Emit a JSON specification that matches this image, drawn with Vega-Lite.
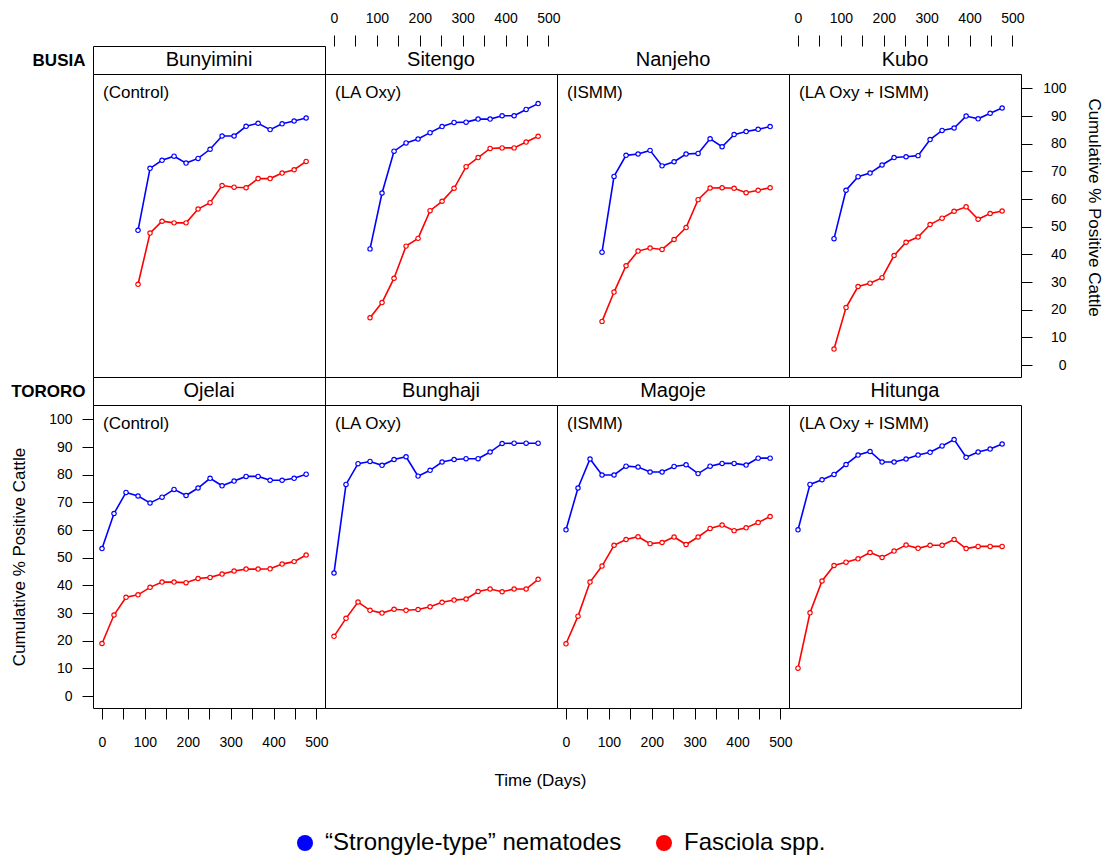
{
  "$schema": "https://vega.github.io/schema/vega-lite/v6.json",
  "padding": {"left": 10, "top": 10, "right": 5, "bottom": 0},
  "background": "white",
  "columns": 4,
  "spacing": 0,
  "align": "each",
  "bounds": "flush",
  "datasets": {
    "prevalence": [
      {"site": "Bunyimini", "day": 84, "nematodes": 48.7, "fasciola": 29.2},
      {"site": "Bunyimini", "day": 112, "nematodes": 71.1, "fasciola": 47.7},
      {"site": "Bunyimini", "day": 140, "nematodes": 74.0, "fasciola": 52.0},
      {"site": "Bunyimini", "day": 168, "nematodes": 75.5, "fasciola": 51.4},
      {"site": "Bunyimini", "day": 196, "nematodes": 73.0, "fasciola": 51.4},
      {"site": "Bunyimini", "day": 224, "nematodes": 74.7, "fasciola": 56.4},
      {"site": "Bunyimini", "day": 252, "nematodes": 78.0, "fasciola": 58.7},
      {"site": "Bunyimini", "day": 280, "nematodes": 82.8, "fasciola": 64.9},
      {"site": "Bunyimini", "day": 308, "nematodes": 82.8, "fasciola": 64.3},
      {"site": "Bunyimini", "day": 336, "nematodes": 86.3, "fasciola": 64.1},
      {"site": "Bunyimini", "day": 364, "nematodes": 87.4, "fasciola": 67.4},
      {"site": "Bunyimini", "day": 392, "nematodes": 85.1, "fasciola": 67.4},
      {"site": "Bunyimini", "day": 420, "nematodes": 87.2, "fasciola": 69.4},
      {"site": "Bunyimini", "day": 448, "nematodes": 88.2, "fasciola": 70.6},
      {"site": "Bunyimini", "day": 476, "nematodes": 89.3, "fasciola": 73.6},
      {"site": "Sitengo", "day": 84, "nematodes": 42.0, "fasciola": 17.1},
      {"site": "Sitengo", "day": 112, "nematodes": 62.2, "fasciola": 22.6},
      {"site": "Sitengo", "day": 140, "nematodes": 77.3, "fasciola": 31.4},
      {"site": "Sitengo", "day": 168, "nematodes": 80.3, "fasciola": 43.0},
      {"site": "Sitengo", "day": 196, "nematodes": 81.7, "fasciola": 45.8},
      {"site": "Sitengo", "day": 224, "nematodes": 84.0, "fasciola": 55.8},
      {"site": "Sitengo", "day": 252, "nematodes": 86.2, "fasciola": 59.2},
      {"site": "Sitengo", "day": 280, "nematodes": 87.7, "fasciola": 63.9},
      {"site": "Sitengo", "day": 308, "nematodes": 87.8, "fasciola": 71.7},
      {"site": "Sitengo", "day": 336, "nematodes": 88.9, "fasciola": 75.0},
      {"site": "Sitengo", "day": 364, "nematodes": 88.9, "fasciola": 78.3},
      {"site": "Sitengo", "day": 392, "nematodes": 90.1, "fasciola": 78.5},
      {"site": "Sitengo", "day": 420, "nematodes": 90.1, "fasciola": 78.5},
      {"site": "Sitengo", "day": 448, "nematodes": 92.4, "fasciola": 80.6},
      {"site": "Sitengo", "day": 476, "nematodes": 94.5, "fasciola": 82.7},
      {"site": "Nanjeho", "day": 84, "nematodes": 40.8, "fasciola": 15.8},
      {"site": "Nanjeho", "day": 112, "nematodes": 68.2, "fasciola": 26.4},
      {"site": "Nanjeho", "day": 140, "nematodes": 75.8, "fasciola": 35.9},
      {"site": "Nanjeho", "day": 168, "nematodes": 76.3, "fasciola": 41.2},
      {"site": "Nanjeho", "day": 196, "nematodes": 77.6, "fasciola": 42.3},
      {"site": "Nanjeho", "day": 224, "nematodes": 72.0, "fasciola": 41.8},
      {"site": "Nanjeho", "day": 252, "nematodes": 73.5, "fasciola": 45.4},
      {"site": "Nanjeho", "day": 280, "nematodes": 76.3, "fasciola": 49.7},
      {"site": "Nanjeho", "day": 308, "nematodes": 76.5, "fasciola": 59.8},
      {"site": "Nanjeho", "day": 336, "nematodes": 81.8, "fasciola": 64.0},
      {"site": "Nanjeho", "day": 364, "nematodes": 78.9, "fasciola": 64.1},
      {"site": "Nanjeho", "day": 392, "nematodes": 83.3, "fasciola": 63.9},
      {"site": "Nanjeho", "day": 420, "nematodes": 84.4, "fasciola": 62.3},
      {"site": "Nanjeho", "day": 448, "nematodes": 85.2, "fasciola": 63.2},
      {"site": "Nanjeho", "day": 476, "nematodes": 86.2, "fasciola": 64.1},
      {"site": "Kubo", "day": 84, "nematodes": 45.7, "fasciola": 5.8},
      {"site": "Kubo", "day": 112, "nematodes": 63.2, "fasciola": 20.8},
      {"site": "Kubo", "day": 140, "nematodes": 68.1, "fasciola": 28.4},
      {"site": "Kubo", "day": 168, "nematodes": 69.4, "fasciola": 29.6},
      {"site": "Kubo", "day": 196, "nematodes": 72.3, "fasciola": 31.6},
      {"site": "Kubo", "day": 224, "nematodes": 75.0, "fasciola": 39.6},
      {"site": "Kubo", "day": 252, "nematodes": 75.3, "fasciola": 44.4},
      {"site": "Kubo", "day": 280, "nematodes": 75.7, "fasciola": 46.3},
      {"site": "Kubo", "day": 308, "nematodes": 81.5, "fasciola": 50.8},
      {"site": "Kubo", "day": 336, "nematodes": 84.8, "fasciola": 53.1},
      {"site": "Kubo", "day": 364, "nematodes": 85.7, "fasciola": 55.6},
      {"site": "Kubo", "day": 392, "nematodes": 90.0, "fasciola": 57.2},
      {"site": "Kubo", "day": 420, "nematodes": 89.0, "fasciola": 52.7},
      {"site": "Kubo", "day": 448, "nematodes": 91.0, "fasciola": 54.8},
      {"site": "Kubo", "day": 476, "nematodes": 92.9, "fasciola": 55.7},
      {"site": "Ojelai", "day": 0, "nematodes": 53.3, "fasciola": 19.0},
      {"site": "Ojelai", "day": 28, "nematodes": 66.0, "fasciola": 29.3},
      {"site": "Ojelai", "day": 56, "nematodes": 73.6, "fasciola": 35.7},
      {"site": "Ojelai", "day": 84, "nematodes": 72.3, "fasciola": 36.6},
      {"site": "Ojelai", "day": 112, "nematodes": 69.8, "fasciola": 39.3},
      {"site": "Ojelai", "day": 140, "nematodes": 71.9, "fasciola": 41.2},
      {"site": "Ojelai", "day": 168, "nematodes": 74.7, "fasciola": 41.2},
      {"site": "Ojelai", "day": 196, "nematodes": 72.5, "fasciola": 41.0},
      {"site": "Ojelai", "day": 224, "nematodes": 75.2, "fasciola": 42.5},
      {"site": "Ojelai", "day": 252, "nematodes": 78.7, "fasciola": 42.9},
      {"site": "Ojelai", "day": 280, "nematodes": 76.0, "fasciola": 44.1},
      {"site": "Ojelai", "day": 308, "nematodes": 77.7, "fasciola": 45.2},
      {"site": "Ojelai", "day": 336, "nematodes": 79.4, "fasciola": 45.9},
      {"site": "Ojelai", "day": 364, "nematodes": 79.4, "fasciola": 45.9},
      {"site": "Ojelai", "day": 392, "nematodes": 78.0, "fasciola": 46.0},
      {"site": "Ojelai", "day": 420, "nematodes": 78.0, "fasciola": 47.7},
      {"site": "Ojelai", "day": 448, "nematodes": 78.7, "fasciola": 48.6},
      {"site": "Ojelai", "day": 476, "nematodes": 80.2, "fasciola": 51.0},
      {"site": "Bunghaji", "day": 0, "nematodes": 44.5, "fasciola": 21.6},
      {"site": "Bunghaji", "day": 28, "nematodes": 76.5, "fasciola": 28.1},
      {"site": "Bunghaji", "day": 56, "nematodes": 84.0, "fasciola": 34.0},
      {"site": "Bunghaji", "day": 84, "nematodes": 84.8, "fasciola": 31.0},
      {"site": "Bunghaji", "day": 112, "nematodes": 83.4, "fasciola": 30.0},
      {"site": "Bunghaji", "day": 140, "nematodes": 85.5, "fasciola": 31.4},
      {"site": "Bunghaji", "day": 168, "nematodes": 86.5, "fasciola": 31.0},
      {"site": "Bunghaji", "day": 196, "nematodes": 79.5, "fasciola": 31.3},
      {"site": "Bunghaji", "day": 224, "nematodes": 81.6, "fasciola": 32.3},
      {"site": "Bunghaji", "day": 252, "nematodes": 84.6, "fasciola": 33.9},
      {"site": "Bunghaji", "day": 280, "nematodes": 85.5, "fasciola": 34.7},
      {"site": "Bunghaji", "day": 308, "nematodes": 85.8, "fasciola": 35.1},
      {"site": "Bunghaji", "day": 336, "nematodes": 85.8, "fasciola": 37.8},
      {"site": "Bunghaji", "day": 364, "nematodes": 88.2, "fasciola": 38.7},
      {"site": "Bunghaji", "day": 392, "nematodes": 91.3, "fasciola": 37.7},
      {"site": "Bunghaji", "day": 420, "nematodes": 91.4, "fasciola": 38.7},
      {"site": "Bunghaji", "day": 448, "nematodes": 91.4, "fasciola": 38.7},
      {"site": "Bunghaji", "day": 476, "nematodes": 91.4, "fasciola": 42.2},
      {"site": "Magoje", "day": 0, "nematodes": 60.1, "fasciola": 18.9},
      {"site": "Magoje", "day": 28, "nematodes": 75.2, "fasciola": 28.9},
      {"site": "Magoje", "day": 56, "nematodes": 85.7, "fasciola": 41.2},
      {"site": "Magoje", "day": 84, "nematodes": 79.9, "fasciola": 47.0},
      {"site": "Magoje", "day": 112, "nematodes": 79.9, "fasciola": 54.5},
      {"site": "Magoje", "day": 140, "nematodes": 83.1, "fasciola": 56.6},
      {"site": "Magoje", "day": 168, "nematodes": 82.8, "fasciola": 57.6},
      {"site": "Magoje", "day": 196, "nematodes": 81.0, "fasciola": 55.1},
      {"site": "Magoje", "day": 224, "nematodes": 81.0, "fasciola": 55.5},
      {"site": "Magoje", "day": 252, "nematodes": 83.0, "fasciola": 57.5},
      {"site": "Magoje", "day": 280, "nematodes": 83.6, "fasciola": 54.8},
      {"site": "Magoje", "day": 308, "nematodes": 80.4, "fasciola": 57.5},
      {"site": "Magoje", "day": 336, "nematodes": 83.1, "fasciola": 60.6},
      {"site": "Magoje", "day": 364, "nematodes": 84.1, "fasciola": 61.8},
      {"site": "Magoje", "day": 392, "nematodes": 84.1, "fasciola": 59.8},
      {"site": "Magoje", "day": 420, "nematodes": 83.5, "fasciola": 60.8},
      {"site": "Magoje", "day": 448, "nematodes": 86.0, "fasciola": 62.7},
      {"site": "Magoje", "day": 476, "nematodes": 86.0, "fasciola": 64.9},
      {"site": "Hitunga", "day": 0, "nematodes": 60.1, "fasciola": 10.1},
      {"site": "Hitunga", "day": 28, "nematodes": 76.5, "fasciola": 30.1},
      {"site": "Hitunga", "day": 56, "nematodes": 78.2, "fasciola": 41.6},
      {"site": "Hitunga", "day": 84, "nematodes": 80.1, "fasciola": 47.2},
      {"site": "Hitunga", "day": 112, "nematodes": 83.7, "fasciola": 48.4},
      {"site": "Hitunga", "day": 140, "nematodes": 87.1, "fasciola": 49.6},
      {"site": "Hitunga", "day": 168, "nematodes": 88.4, "fasciola": 51.9},
      {"site": "Hitunga", "day": 196, "nematodes": 84.6, "fasciola": 50.1},
      {"site": "Hitunga", "day": 224, "nematodes": 84.6, "fasciola": 52.4},
      {"site": "Hitunga", "day": 252, "nematodes": 85.7, "fasciola": 54.6},
      {"site": "Hitunga", "day": 280, "nematodes": 87.1, "fasciola": 53.4},
      {"site": "Hitunga", "day": 308, "nematodes": 88.1, "fasciola": 54.5},
      {"site": "Hitunga", "day": 336, "nematodes": 90.4, "fasciola": 54.5},
      {"site": "Hitunga", "day": 364, "nematodes": 92.7, "fasciola": 56.6},
      {"site": "Hitunga", "day": 392, "nematodes": 86.3, "fasciola": 53.3},
      {"site": "Hitunga", "day": 420, "nematodes": 88.2, "fasciola": 54.1},
      {"site": "Hitunga", "day": 448, "nematodes": 89.3, "fasciola": 54.1},
      {"site": "Hitunga", "day": 476, "nematodes": 91.1, "fasciola": 54.1}
    ]
  },
  "concat": [
    {
      "width": 232, "height": 28,
      "data": {"values": [{"site": "Bunyimini", "region": "BUSIA"}]},
      "mark": {"type": "text", "fontSize": 20, "baseline": "middle", "color": "black"},
      "encoding": {
        "text": {"field": "site"},
        "y": {"field": "region", "type": "nominal", "axis": {"orient": "left", "ticks": false, "domain": false, "title": null, "labelFontWeight": "bold", "labelFontSize": 17, "labelPadding": 8}}
      }
    },
    {
      "width": 232, "height": 28,
      "data": {"values": [{"site": "Sitengo"}]},
      "mark": {"type": "text", "fontSize": 20, "baseline": "middle", "color": "black"},
      "encoding": {"text": {"field": "site"}}
    },
    {
      "width": 232, "height": 28,
      "data": {"values": [{"site": "Nanjeho"}]},
      "mark": {"type": "text", "fontSize": 20, "baseline": "middle", "color": "black"},
      "encoding": {"text": {"field": "site"}}
    },
    {
      "width": 232, "height": 28,
      "data": {"values": [{"site": "Kubo"}]},
      "mark": {"type": "text", "fontSize": 20, "baseline": "middle", "color": "black"},
      "encoding": {"text": {"field": "site"}}
    },
    {
      "width": 232, "height": 303,
      "resolve": {"axis": {"x": "independent", "y": "independent"}},
      "layer": [
        {
          "data": {"name": "prevalence"},
          "transform": [{"filter": "datum.site === 'Bunyimini'"}, {"fold": ["nematodes", "fasciola"], "as": ["series", "pct"]}],
          "encoding": {
            "x": {"field": "day", "type": "quantitative", "scale": {"domain": [-21, 520], "nice": false, "zero": false}, "axis": null},
            "y": {"field": "pct", "type": "quantitative", "scale": {"domain": [-4.3, 105.2], "nice": false, "zero": false}, "axis": null}
          },
          "layer": [
            {"mark": {"type": "point", "filled": true, "size": 30, "opacity": 1},
             "encoding": {"color": {"field": "series", "type": "nominal", "scale": {"domain": ["nematodes", "fasciola"], "range": ["#0000FF", "#FF0000"]},
               "legend": {"title": null, "orient": "none", "legendX": 200, "legendY": 785, "direction": "horizontal",
                 "labelExpr": "datum.value === 'nematodes' ? '“Strongyle-type” nematodes' : 'Fasciola spp.'",
                 "symbolType": "circle", "symbolSize": 256, "symbolStrokeWidth": 0, "symbolOpacity": 1,
                 "labelFontSize": 24, "labelColor": "black", "labelOffset": 8, "columnPadding": 30, "labelLimit": 0}}}},
            {"mark": {"type": "line", "strokeWidth": 1.6},
             "encoding": {"color": {"field": "series", "type": "nominal", "scale": {"domain": ["nematodes", "fasciola"], "range": ["#0000FF", "#FF0000"]}, "legend": null}}},
            {"mark": {"type": "point", "filled": true, "size": 10, "color": "white", "opacity": 1}}
          ]
        },
        {
          "data": {"values": [{"treatment": "(Control)"}]},
          "mark": {"type": "text", "align": "left", "baseline": "middle", "dx": 10, "dy": 19, "fontSize": 17, "color": "black"},
          "encoding": {"text": {"field": "treatment", "type": "nominal"}, "x": {"datum": -21, "type": "quantitative", "axis": null}, "y": {"datum": 105.2, "type": "quantitative", "axis": null}}
        }
      ]
    },
    {
      "width": 232, "height": 303,
      "resolve": {"axis": {"x": "independent", "y": "independent"}},
      "layer": [
        {
          "data": {"name": "prevalence"},
          "transform": [{"filter": "datum.site === 'Sitengo'"}, {"fold": ["nematodes", "fasciola"], "as": ["series", "pct"]}],
          "encoding": {
            "x": {"field": "day", "type": "quantitative", "scale": {"domain": [-21, 520], "nice": false, "zero": false},
              "axis": {"orient": "top", "offset": 28, "values": [0, 50, 100, 150, 200, 250, 300, 350, 400, 450, 500], "labelExpr": "datum.value % 100 === 0 ? datum.label : ''", "labelPadding": 10, "title": null}},
            "y": {"field": "pct", "type": "quantitative", "scale": {"domain": [-4.3, 105.2], "nice": false, "zero": false}, "axis": null}
          },
          "layer": [
            {"mark": {"type": "point", "filled": true, "size": 30, "opacity": 1},
             "encoding": {"color": {"field": "series", "type": "nominal", "scale": {"domain": ["nematodes", "fasciola"], "range": ["#0000FF", "#FF0000"]}, "legend": null}}},
            {"mark": {"type": "line", "strokeWidth": 1.6},
             "encoding": {"color": {"field": "series", "type": "nominal", "scale": {"domain": ["nematodes", "fasciola"], "range": ["#0000FF", "#FF0000"]}, "legend": null}}},
            {"mark": {"type": "point", "filled": true, "size": 10, "color": "white", "opacity": 1}}
          ]
        },
        {
          "data": {"values": [{"treatment": "(LA Oxy)"}]},
          "mark": {"type": "text", "align": "left", "baseline": "middle", "dx": 10, "dy": 19, "fontSize": 17, "color": "black"},
          "encoding": {"text": {"field": "treatment", "type": "nominal"}, "x": {"datum": -21, "type": "quantitative", "axis": null}, "y": {"datum": 105.2, "type": "quantitative", "axis": null}}
        }
      ]
    },
    {
      "width": 232, "height": 303,
      "resolve": {"axis": {"x": "independent", "y": "independent"}},
      "layer": [
        {
          "data": {"name": "prevalence"},
          "transform": [{"filter": "datum.site === 'Nanjeho'"}, {"fold": ["nematodes", "fasciola"], "as": ["series", "pct"]}],
          "encoding": {
            "x": {"field": "day", "type": "quantitative", "scale": {"domain": [-21, 520], "nice": false, "zero": false}, "axis": null},
            "y": {"field": "pct", "type": "quantitative", "scale": {"domain": [-4.3, 105.2], "nice": false, "zero": false}, "axis": null}
          },
          "layer": [
            {"mark": {"type": "point", "filled": true, "size": 30, "opacity": 1},
             "encoding": {"color": {"field": "series", "type": "nominal", "scale": {"domain": ["nematodes", "fasciola"], "range": ["#0000FF", "#FF0000"]}, "legend": null}}},
            {"mark": {"type": "line", "strokeWidth": 1.6},
             "encoding": {"color": {"field": "series", "type": "nominal", "scale": {"domain": ["nematodes", "fasciola"], "range": ["#0000FF", "#FF0000"]}, "legend": null}}},
            {"mark": {"type": "point", "filled": true, "size": 10, "color": "white", "opacity": 1}}
          ]
        },
        {
          "data": {"values": [{"treatment": "(ISMM)"}]},
          "mark": {"type": "text", "align": "left", "baseline": "middle", "dx": 10, "dy": 19, "fontSize": 17, "color": "black"},
          "encoding": {"text": {"field": "treatment", "type": "nominal"}, "x": {"datum": -21, "type": "quantitative", "axis": null}, "y": {"datum": 105.2, "type": "quantitative", "axis": null}}
        }
      ]
    },
    {
      "width": 232, "height": 303,
      "resolve": {"axis": {"x": "independent", "y": "independent"}},
      "layer": [
        {
          "data": {"name": "prevalence"},
          "transform": [{"filter": "datum.site === 'Kubo'"}, {"fold": ["nematodes", "fasciola"], "as": ["series", "pct"]}],
          "encoding": {
            "x": {"field": "day", "type": "quantitative", "scale": {"domain": [-21, 520], "nice": false, "zero": false},
              "axis": {"orient": "top", "offset": 28, "values": [0, 50, 100, 150, 200, 250, 300, 350, 400, 450, 500], "labelExpr": "datum.value % 100 === 0 ? datum.label : ''", "labelPadding": 10, "title": null}},
            "y": {"field": "pct", "type": "quantitative", "scale": {"domain": [-4.3, 105.2], "nice": false, "zero": false},
              "axis": {"orient": "right", "values": [0, 10, 20, 30, 40, 50, 60, 70, 80, 90, 100], "labelAlign": "right", "labelPadding": 34, "title": "Cumulative % Positive Cattle", "titlePadding": 18, "titleY": 133}}
          },
          "layer": [
            {"mark": {"type": "point", "filled": true, "size": 30, "opacity": 1},
             "encoding": {"color": {"field": "series", "type": "nominal", "scale": {"domain": ["nematodes", "fasciola"], "range": ["#0000FF", "#FF0000"]}, "legend": null}}},
            {"mark": {"type": "line", "strokeWidth": 1.6},
             "encoding": {"color": {"field": "series", "type": "nominal", "scale": {"domain": ["nematodes", "fasciola"], "range": ["#0000FF", "#FF0000"]}, "legend": null}}},
            {"mark": {"type": "point", "filled": true, "size": 10, "color": "white", "opacity": 1}}
          ]
        },
        {
          "data": {"values": [{"treatment": "(LA Oxy + ISMM)"}]},
          "mark": {"type": "text", "align": "left", "baseline": "middle", "dx": 10, "dy": 19, "fontSize": 17, "color": "black"},
          "encoding": {"text": {"field": "treatment", "type": "nominal"}, "x": {"datum": -21, "type": "quantitative", "axis": null}, "y": {"datum": 105.2, "type": "quantitative", "axis": null}}
        }
      ]
    },
    {
      "width": 232, "height": 28,
      "data": {"values": [{"site": "Ojelai", "region": "TORORO"}]},
      "mark": {"type": "text", "fontSize": 20, "baseline": "middle", "color": "black"},
      "encoding": {
        "text": {"field": "site"},
        "y": {"field": "region", "type": "nominal", "axis": {"orient": "left", "ticks": false, "domain": false, "title": null, "labelFontWeight": "bold", "labelFontSize": 17, "labelPadding": 8}}
      }
    },
    {
      "width": 232, "height": 28,
      "data": {"values": [{"site": "Bunghaji"}]},
      "mark": {"type": "text", "fontSize": 20, "baseline": "middle", "color": "black"},
      "encoding": {"text": {"field": "site"}}
    },
    {
      "width": 232, "height": 28,
      "data": {"values": [{"site": "Magoje"}]},
      "mark": {"type": "text", "fontSize": 20, "baseline": "middle", "color": "black"},
      "encoding": {"text": {"field": "site"}}
    },
    {
      "width": 232, "height": 28,
      "data": {"values": [{"site": "Hitunga"}]},
      "mark": {"type": "text", "fontSize": 20, "baseline": "middle", "color": "black"},
      "encoding": {"text": {"field": "site"}}
    },
    {
      "width": 232, "height": 303,
      "resolve": {"axis": {"x": "independent", "y": "independent"}},
      "layer": [
        {
          "data": {"name": "prevalence"},
          "transform": [{"filter": "datum.site === 'Ojelai'"}, {"fold": ["nematodes", "fasciola"], "as": ["series", "pct"]}],
          "encoding": {
            "x": {"field": "day", "type": "quantitative", "scale": {"domain": [-21, 520], "nice": false, "zero": false},
              "axis": {"orient": "bottom", "values": [0, 50, 100, 150, 200, 250, 300, 350, 400, 450, 500], "labelExpr": "datum.value % 100 === 0 ? datum.label : ''", "labelPadding": 16, "title": "Time (Days)", "titleX": 447, "titleY": 72, "titleBaseline": "middle"}},
            "y": {"field": "pct", "type": "quantitative", "scale": {"domain": [-4.3, 105.2], "nice": false, "zero": false},
              "axis": {"orient": "left", "values": [0, 10, 20, 30, 40, 50, 60, 70, 80, 90, 100], "labelPadding": 10, "title": "Cumulative % Positive Cattle", "titlePadding": 20}}
          },
          "layer": [
            {"mark": {"type": "point", "filled": true, "size": 30, "opacity": 1},
             "encoding": {"color": {"field": "series", "type": "nominal", "scale": {"domain": ["nematodes", "fasciola"], "range": ["#0000FF", "#FF0000"]}, "legend": null}}},
            {"mark": {"type": "line", "strokeWidth": 1.6},
             "encoding": {"color": {"field": "series", "type": "nominal", "scale": {"domain": ["nematodes", "fasciola"], "range": ["#0000FF", "#FF0000"]}, "legend": null}}},
            {"mark": {"type": "point", "filled": true, "size": 10, "color": "white", "opacity": 1}}
          ]
        },
        {
          "data": {"values": [{"treatment": "(Control)"}]},
          "mark": {"type": "text", "align": "left", "baseline": "middle", "dx": 10, "dy": 19, "fontSize": 17, "color": "black"},
          "encoding": {"text": {"field": "treatment", "type": "nominal"}, "x": {"datum": -21, "type": "quantitative", "axis": null}, "y": {"datum": 105.2, "type": "quantitative", "axis": null}}
        }
      ]
    },
    {
      "width": 232, "height": 303,
      "resolve": {"axis": {"x": "independent", "y": "independent"}},
      "layer": [
        {
          "data": {"name": "prevalence"},
          "transform": [{"filter": "datum.site === 'Bunghaji'"}, {"fold": ["nematodes", "fasciola"], "as": ["series", "pct"]}],
          "encoding": {
            "x": {"field": "day", "type": "quantitative", "scale": {"domain": [-21, 520], "nice": false, "zero": false}, "axis": null},
            "y": {"field": "pct", "type": "quantitative", "scale": {"domain": [-4.3, 105.2], "nice": false, "zero": false}, "axis": null}
          },
          "layer": [
            {"mark": {"type": "point", "filled": true, "size": 30, "opacity": 1},
             "encoding": {"color": {"field": "series", "type": "nominal", "scale": {"domain": ["nematodes", "fasciola"], "range": ["#0000FF", "#FF0000"]}, "legend": null}}},
            {"mark": {"type": "line", "strokeWidth": 1.6},
             "encoding": {"color": {"field": "series", "type": "nominal", "scale": {"domain": ["nematodes", "fasciola"], "range": ["#0000FF", "#FF0000"]}, "legend": null}}},
            {"mark": {"type": "point", "filled": true, "size": 10, "color": "white", "opacity": 1}}
          ]
        },
        {
          "data": {"values": [{"treatment": "(LA Oxy)"}]},
          "mark": {"type": "text", "align": "left", "baseline": "middle", "dx": 10, "dy": 19, "fontSize": 17, "color": "black"},
          "encoding": {"text": {"field": "treatment", "type": "nominal"}, "x": {"datum": -21, "type": "quantitative", "axis": null}, "y": {"datum": 105.2, "type": "quantitative", "axis": null}}
        }
      ]
    },
    {
      "width": 232, "height": 303,
      "resolve": {"axis": {"x": "independent", "y": "independent"}},
      "layer": [
        {
          "data": {"name": "prevalence"},
          "transform": [{"filter": "datum.site === 'Magoje'"}, {"fold": ["nematodes", "fasciola"], "as": ["series", "pct"]}],
          "encoding": {
            "x": {"field": "day", "type": "quantitative", "scale": {"domain": [-21, 520], "nice": false, "zero": false},
              "axis": {"orient": "bottom", "values": [0, 50, 100, 150, 200, 250, 300, 350, 400, 450, 500], "labelExpr": "datum.value % 100 === 0 ? datum.label : ''", "labelPadding": 16, "title": null}},
            "y": {"field": "pct", "type": "quantitative", "scale": {"domain": [-4.3, 105.2], "nice": false, "zero": false}, "axis": null}
          },
          "layer": [
            {"mark": {"type": "point", "filled": true, "size": 30, "opacity": 1},
             "encoding": {"color": {"field": "series", "type": "nominal", "scale": {"domain": ["nematodes", "fasciola"], "range": ["#0000FF", "#FF0000"]}, "legend": null}}},
            {"mark": {"type": "line", "strokeWidth": 1.6},
             "encoding": {"color": {"field": "series", "type": "nominal", "scale": {"domain": ["nematodes", "fasciola"], "range": ["#0000FF", "#FF0000"]}, "legend": null}}},
            {"mark": {"type": "point", "filled": true, "size": 10, "color": "white", "opacity": 1}}
          ]
        },
        {
          "data": {"values": [{"treatment": "(ISMM)"}]},
          "mark": {"type": "text", "align": "left", "baseline": "middle", "dx": 10, "dy": 19, "fontSize": 17, "color": "black"},
          "encoding": {"text": {"field": "treatment", "type": "nominal"}, "x": {"datum": -21, "type": "quantitative", "axis": null}, "y": {"datum": 105.2, "type": "quantitative", "axis": null}}
        }
      ]
    },
    {
      "width": 232, "height": 303,
      "resolve": {"axis": {"x": "independent", "y": "independent"}},
      "layer": [
        {
          "data": {"name": "prevalence"},
          "transform": [{"filter": "datum.site === 'Hitunga'"}, {"fold": ["nematodes", "fasciola"], "as": ["series", "pct"]}],
          "encoding": {
            "x": {"field": "day", "type": "quantitative", "scale": {"domain": [-21, 520], "nice": false, "zero": false}, "axis": null},
            "y": {"field": "pct", "type": "quantitative", "scale": {"domain": [-4.3, 105.2], "nice": false, "zero": false}, "axis": null}
          },
          "layer": [
            {"mark": {"type": "point", "filled": true, "size": 30, "opacity": 1},
             "encoding": {"color": {"field": "series", "type": "nominal", "scale": {"domain": ["nematodes", "fasciola"], "range": ["#0000FF", "#FF0000"]}, "legend": null}}},
            {"mark": {"type": "line", "strokeWidth": 1.6},
             "encoding": {"color": {"field": "series", "type": "nominal", "scale": {"domain": ["nematodes", "fasciola"], "range": ["#0000FF", "#FF0000"]}, "legend": null}}},
            {"mark": {"type": "point", "filled": true, "size": 10, "color": "white", "opacity": 1}}
          ]
        },
        {
          "data": {"values": [{"treatment": "(LA Oxy + ISMM)"}]},
          "mark": {"type": "text", "align": "left", "baseline": "middle", "dx": 10, "dy": 19, "fontSize": 17, "color": "black"},
          "encoding": {"text": {"field": "treatment", "type": "nominal"}, "x": {"datum": -21, "type": "quantitative", "axis": null}, "y": {"datum": 105.2, "type": "quantitative", "axis": null}}
        }
      ]
    }
  ],
  "config": {
    "font": "Liberation Sans",
    "view": {"stroke": "black", "strokeWidth": 1},
    "concat": {"spacing": 0},
    "axis": {
      "domain": false, "grid": false, "ticks": true, "tickSize": 11, "tickColor": "black", "tickWidth": 1,
      "labelFont": "Liberation Sans", "labelFontSize": 14, "labelColor": "black", "labelAngle": 0,
      "labelFlush": false, "labelOverlap": false, "labelBound": false,
      "titleFont": "Liberation Sans", "titleFontSize": 17, "titleFontWeight": "normal", "titleColor": "black"
    },
    "legend": {"labelFont": "Liberation Sans"}
  }
}
